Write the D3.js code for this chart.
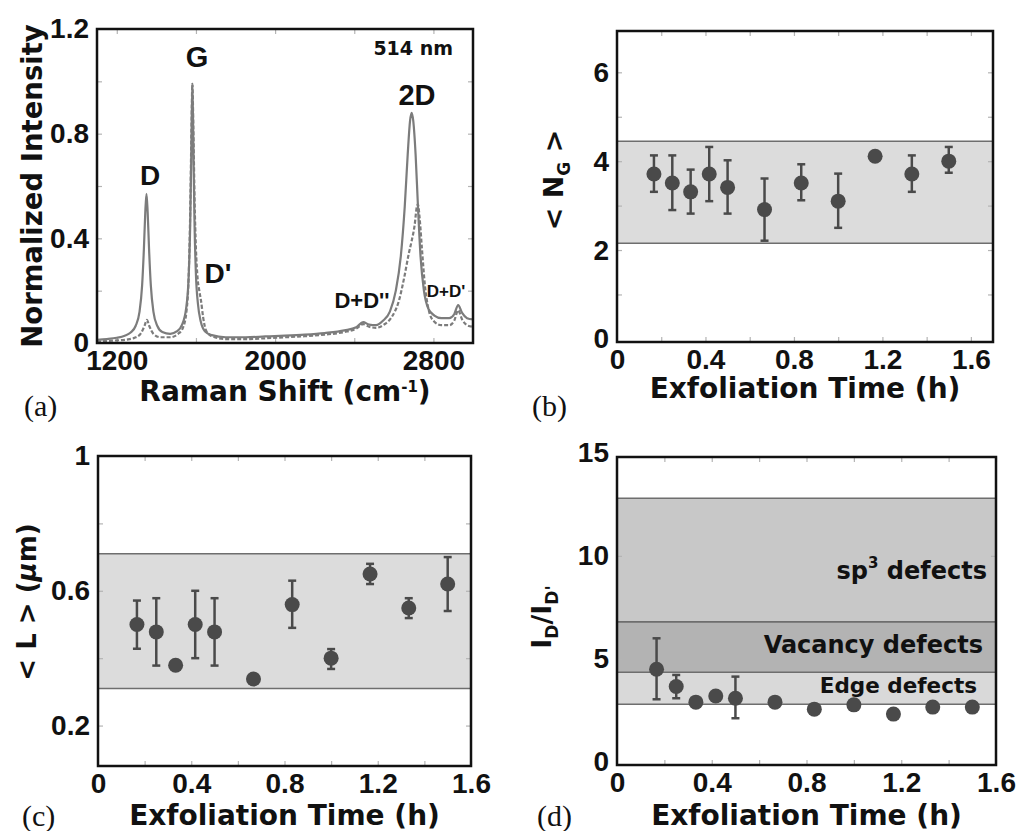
<!DOCTYPE html>
<html>
<head>
<meta charset="utf-8">
<script src="https://cdn.jsdelivr.net/npm/d3@7"></script>
<style>
body { margin: 0; background: #fff; }
svg { display: block; }
</style>
</head>
<body>
<div id="chart"></div>
<script>
// ---- (a) Raman spectra ----
const shiftSolid = [1100, 1150, 1200, 1240, 1270, 1295, 1315, 1328, 1337, 1344, 1350, 1356, 1363, 1372, 1385, 1405, 1430, 1470, 1505, 1530, 1550, 1563, 1571, 1577, 1582, 1587, 1593, 1600, 1610, 1625, 1645, 1680, 1750, 1850, 1950, 2050, 2150, 2250, 2350, 2410, 2445, 2475, 2510, 2545, 2580, 2610, 2635, 2655, 2670, 2682, 2690, 2698, 2710, 2722, 2735, 2752, 2775, 2805, 2840, 2880, 2905, 2925, 2945, 2970, 3000];
const intensitySolid = [0.012, 0.015, 0.02, 0.028, 0.04, 0.065, 0.12, 0.22, 0.36, 0.5, 0.57, 0.5, 0.36, 0.22, 0.12, 0.065, 0.042, 0.035, 0.045, 0.07, 0.13, 0.25, 0.45, 0.75, 0.99, 0.75, 0.45, 0.26, 0.15, 0.08, 0.045, 0.03, 0.022, 0.022, 0.025, 0.028, 0.032, 0.038, 0.048, 0.06, 0.08, 0.07, 0.068, 0.085, 0.12, 0.2, 0.33, 0.52, 0.72, 0.85, 0.88, 0.85, 0.72, 0.52, 0.33, 0.2, 0.13, 0.105, 0.095, 0.095, 0.11, 0.145, 0.115, 0.095, 0.09];

const shiftDashed = [1100, 1150, 1200, 1250, 1290, 1320, 1340, 1352, 1364, 1385, 1420, 1470, 1510, 1535, 1552, 1563, 1571, 1577, 1582, 1587, 1593, 1600, 1608, 1617, 1626, 1636, 1650, 1675, 1750, 1850, 1950, 2050, 2150, 2250, 2350, 2410, 2445, 2475, 2510, 2550, 2590, 2625, 2655, 2675, 2690, 2705, 2716, 2722, 2730, 2742, 2757, 2775, 2800, 2840, 2880, 2905, 2925, 2945, 2970, 3000];
const intensityDashed = [0.005, 0.008, 0.01, 0.013, 0.02, 0.035, 0.065, 0.088, 0.065, 0.035, 0.022, 0.022, 0.035, 0.06, 0.12, 0.25, 0.5, 0.8, 0.99, 0.82, 0.55, 0.36, 0.25, 0.2, 0.16, 0.1, 0.05, 0.028, 0.015, 0.015, 0.018, 0.022, 0.026, 0.032, 0.042, 0.055, 0.072, 0.062, 0.058, 0.07, 0.1, 0.16, 0.26, 0.34, 0.39, 0.45, 0.52, 0.53, 0.48, 0.36, 0.22, 0.13, 0.085, 0.068, 0.068, 0.085, 0.125, 0.09, 0.068, 0.062];

const peakNames = ["D", "G", "D'", "2D", "D+D''", "D+D'"];

// ---- (b), (c), (d) versus exfoliation time ----
const timeH = [0.167, 0.25, 0.333, 0.417, 0.5, 0.667, 0.833, 1.0, 1.167, 1.333, 1.5];

const ngMean = [3.71, 3.51, 3.31, 3.71, 3.41, 2.91, 3.51, 3.1, 4.11, 3.71, 4.0];
const ngLow  = [3.31, 2.9, 2.82, 3.1, 2.82, 2.21, 3.12, 2.5, 4.03, 3.31, 3.74];
const ngHigh = [4.13, 4.13, 3.81, 4.32, 4.02, 3.61, 3.93, 3.72, 4.19, 4.13, 4.32];
const ngBand = [2.15, 4.45];

const lMean = [0.5, 0.478, 0.379, 0.5, 0.478, 0.338, 0.559, 0.4, 0.65, 0.549, 0.62];
const lLow  = [0.428, 0.378, null, 0.4, 0.378, null, 0.49, 0.368, 0.62, 0.519, 0.54];
const lHigh = [0.571, 0.578, null, 0.6, 0.578, null, 0.63, 0.427, 0.68, 0.578, 0.7];
const lBand = [0.31, 0.71];

const ratioMean = [4.5, 3.66, 2.9, 3.2, 3.09, 2.9, 2.56, 2.77, 2.32, 2.66, 2.66];
const ratioLow  = [3.04, 3.09, null, null, 2.12, null, null, null, null, null, null];
const ratioHigh = [6.0, 4.22, null, null, 4.14, null, null, null, null, null, null];
const defectFrom = [2.8, 4.35, 6.8];
const defectTo   = [4.35, 6.8, 12.8];
const defectFill = ["#d9d9d9", "#b3b3b3", "#c8c8c8"];

const timeLabels = [0, 0.4, 0.8, 1.2, 1.6];
const timeMinor = [0.2, 0.4, 0.6, 0.8, 1.0, 1.2, 1.4, 1.6];

// ---- drawing ----
const tickFont = "'Liberation Sans', Arial, sans-serif";
const titleFont = "'DejaVu Sans', sans-serif";
const serifFont = "'Liberation Serif', 'Times New Roman', serif";
const ink = "#4a4a4a";

const svg = d3.select("#chart").append("svg").attr("width", 1020).attr("height", 831);

function makePanel(box, xDomain, yDomain) {
    const x = d3.scaleLinear().domain(xDomain).range([box.left, box.right]);
    const y = d3.scaleLinear().domain(yDomain).range([box.bottom, box.top]);
    const g = svg.append("g");
    return {g, x, y, box};
}

function drawAxes(p, xLabels, yLabels, xMinor, yMinor) {
    const {g, x, y, box} = p;
    const fmt = d3.format("~g");

    // small grey ticks inside the frame
    [
        [d3.axisTop(x).tickValues(xMinor), `translate(0,${box.bottom})`],
        [d3.axisBottom(x).tickValues(xMinor), `translate(0,${box.top})`],
        [d3.axisRight(y).tickValues(yMinor), `translate(${box.left},0)`],
        [d3.axisLeft(y).tickValues(yMinor), `translate(${box.right},0)`],
    ].forEach(([ax, tr]) => {
        const a = g.append("g").attr("transform", tr).call(ax.tickSize(5).tickFormat(""));
        a.select(".domain").remove();
        a.selectAll("line").attr("stroke", "#b4b4b4").attr("stroke-width", 1.2);
    });

    const xa = g.append("g")
        .attr("transform", `translate(0,${box.bottom})`)
        .call(d3.axisBottom(x).tickValues(xLabels).tickSize(0).tickPadding(7).tickFormat(fmt));
    const ya = g.append("g")
        .attr("transform", `translate(${box.left},0)`)
        .call(d3.axisLeft(y).tickValues(yLabels).tickSize(0).tickPadding(8).tickFormat(fmt));
    [xa, ya].forEach(a => {
        a.select(".domain").remove();
        a.selectAll("text")
            .attr("fill", "#111")
            .style("font-family", tickFont)
            .style("font-size", "28px")
            .style("font-weight", "bold");
    });
}

function drawFrame(p) {
    const {g, box} = p;
    g.append("rect")
        .attr("x", box.left).attr("y", box.top)
        .attr("width", box.right - box.left).attr("height", box.bottom - box.top)
        .attr("fill", "none").attr("stroke", "#111").attr("stroke-width", 2.5);
}

function drawBand(p, lo, hi, fill) {
    const {g, x, y, box} = p;
    g.append("rect")
        .attr("x", box.left).attr("width", box.right - box.left)
        .attr("y", y(hi)).attr("height", y(lo) - y(hi))
        .attr("fill", fill);
    [lo, hi].forEach(v => g.append("line")
        .attr("x1", box.left).attr("x2", box.right)
        .attr("y1", y(v)).attr("y2", y(v))
        .attr("stroke", "#6e6e6e").attr("stroke-width", 1.5));
}

function drawPoints(p, xs, mean, low, high) {
    const {g, x, y} = p;
    const rows = xs.map((t, i) => ({t, m: mean[i], lo: low[i], hi: high[i]}));
    const withErr = rows.filter(d => d.lo !== null);
    const eb = g.append("g").attr("stroke", ink).attr("stroke-width", 2.5);
    eb.selectAll("line.stem").data(withErr).join("line").attr("class", "stem")
        .attr("x1", d => x(d.t)).attr("x2", d => x(d.t))
        .attr("y1", d => y(d.lo)).attr("y2", d => y(d.hi));
    ["lo", "hi"].forEach(k => eb.selectAll(`line.cap-${k}`).data(withErr).join("line")
        .attr("class", `cap-${k}`)
        .attr("x1", d => x(d.t) - 4).attr("x2", d => x(d.t) + 4)
        .attr("y1", d => y(d[k])).attr("y2", d => y(d[k])));
    g.append("g").selectAll("circle").data(rows).join("circle")
        .attr("cx", d => x(d.t)).attr("cy", d => y(d.m)).attr("r", 7.5)
        .attr("fill", ink);
}

function xTitle(p, baseline) {
    const {g, box} = p;
    return g.append("text")
        .attr("x", (box.left + box.right) / 2).attr("y", baseline)
        .attr("text-anchor", "middle")
        .style("font-family", titleFont).style("font-weight", "bold").style("font-size", "28px")
        .attr("fill", "#111");
}

function yTitle(g, bx, cy, size) {
    return g.append("text")
        .attr("transform", `translate(${bx},${cy}) rotate(-90)`)
        .attr("text-anchor", "middle")
        .style("font-family", titleFont).style("font-weight", "bold").style("font-size", size + "px")
        .attr("fill", "#111");
}

function panelLabel(txt, x, y) {
    svg.append("text").attr("x", x).attr("y", y).text(txt)
        .style("font-family", serifFont).style("font-size", "30px").attr("fill", "#111");
}

// ---------- (a) ----------
const pa = makePanel({left: 97, right: 473, top: 29, bottom: 343}, [1100, 3000], [0, 1.2]);
drawAxes(pa, [1200, 2000, 2800], [0, 0.4, 0.8, 1.2], [1200, 1600, 2000, 2400, 2800], [0.2, 0.4, 0.6, 0.8, 1.0]);

const spectrumLine = d3.line().x(d => pa.x(d[0])).y(d => pa.y(d[1])).curve(d3.curveMonotoneX);
svg.append("clipPath").attr("id", "clipA").append("rect")
    .attr("x", 97).attr("y", 29).attr("width", 376).attr("height", 314);
pa.g.append("path")
    .datum(d3.zip(shiftSolid, intensitySolid))
    .attr("d", spectrumLine).attr("clip-path", "url(#clipA)")
    .attr("fill", "none").attr("stroke", "#7c7c7c").attr("stroke-width", 2.2);
pa.g.append("path")
    .datum(d3.zip(shiftDashed, intensityDashed))
    .attr("d", spectrumLine).attr("clip-path", "url(#clipA)")
    .attr("fill", "none").attr("stroke", "#7c7c7c").attr("stroke-width", 2.2)
    .attr("stroke-dasharray", "4,2");
drawFrame(pa);

// peak labels: [x, baseline, size]
const peakPos = [[150, 185, 28], [197, 67, 29], [218, 283, 28],
                 [417, 105, 29], [362, 308, 22], [446, 297, 17]];
peakNames.forEach((n, i) => {
    const [px, py, fs] = peakPos[i];
    pa.g.append("text").attr("x", px).attr("y", py).attr("text-anchor", "middle").text(n)
        .style("font-family", tickFont).style("font-weight", "bold").style("font-size", fs + "px")
        .attr("fill", "#111");
});
pa.g.append("text").attr("x", 453).attr("y", 55).attr("text-anchor", "end").text("514 nm")
    .style("font-family", titleFont).style("font-weight", "bold").style("font-size", "19px")
    .attr("fill", "#111");

const ta = xTitle(pa, 401);
ta.append("tspan").text("Raman Shift (cm");
ta.append("tspan").text("-1").style("font-size", "15px").attr("dy", -9);
ta.append("tspan").text(")").attr("dy", 9);

yTitle(pa.g, 42, 186, 27.5).text("Normalized Intensity");
panelLabel("(a)", 24, 416);

// ---------- (b) ----------
const pb = makePanel({left: 617, right: 993, top: 31, bottom: 342}, [0, 1.7], [-0.07, 6.93]);
drawBand(pb, ngBand[0], ngBand[1], "#dcdcdc");
drawAxes(pb, timeLabels, [0, 2, 4, 6], timeMinor, [1, 2, 3, 4, 5, 6]);
drawPoints(pb, timeH, ngMean, ngLow, ngHigh);
drawFrame(pb);
xTitle(pb, 398).text("Exfoliation Time (h)");
const tb = yTitle(pb.g, 563, 180, 27);
tb.append("tspan").text("< N");
tb.append("tspan").text("G").style("font-size", "17px").attr("dy", 7);
tb.append("tspan").text(" >").attr("dy", -7);
panelLabel("(b)", 532, 416);

// ---------- (c) ----------
const pc = makePanel({left: 98, right: 471, top: 456, bottom: 766}, [0, 1.6], [0.08, 1.0]);
drawBand(pc, lBand[0], lBand[1], "#dcdcdc");
drawAxes(pc, timeLabels, [0.2, 0.6, 1], timeMinor, [0.2, 0.4, 0.6, 0.8]);
drawPoints(pc, timeH, lMean, lLow, lHigh);
drawFrame(pc);
xTitle(pc, 825).text("Exfoliation Time (h)");
const tc = yTitle(pc.g, 36, 602, 26);
tc.append("tspan").text("< L > (");
tc.append("tspan").text("μ").style("font-style", "italic");
tc.append("tspan").text("m)");
panelLabel("(c)", 22, 826);

// ---------- (d) ----------
const pd = makePanel({left: 617, right: 996, top: 457, bottom: 765}, [0, 1.6], [-0.15, 14.8]);
defectFrom.forEach((lo, i) => drawBand(pd, lo, defectTo[i], defectFill[i]));
drawAxes(pd, timeLabels, [0, 5, 10, 15], timeMinor, [5, 10]);
drawPoints(pd, timeH, ratioMean, ratioLow, ratioHigh);
drawFrame(pd);

function bandText(xr, baseline, size) {
    return pd.g.append("text").attr("x", xr).attr("y", baseline).attr("text-anchor", "end")
        .style("font-family", titleFont).style("font-weight", "bold").style("font-size", size + "px")
        .attr("fill", "#111");
}
const sp3 = bandText(987, 579, 24);
sp3.append("tspan").text("sp");
sp3.append("tspan").text("3").style("font-size", "15px").attr("dy", -11);
sp3.append("tspan").text(" defects").attr("dy", 11);
bandText(983, 653, 24).text("Vacancy defects");
bandText(977, 693, 21.5).text("Edge defects");

xTitle(pd, 825).text("Exfoliation Time (h)");
const td = yTitle(pd.g, 551, 617, 27);
td.append("tspan").text("I");
td.append("tspan").text("D").style("font-size", "17px").attr("dy", 7);
td.append("tspan").text("/I").attr("dy", -7);
td.append("tspan").text("D'").style("font-size", "17px").attr("dy", 7);
panelLabel("(d)", 537, 826);
</script>
</body>
</html>
